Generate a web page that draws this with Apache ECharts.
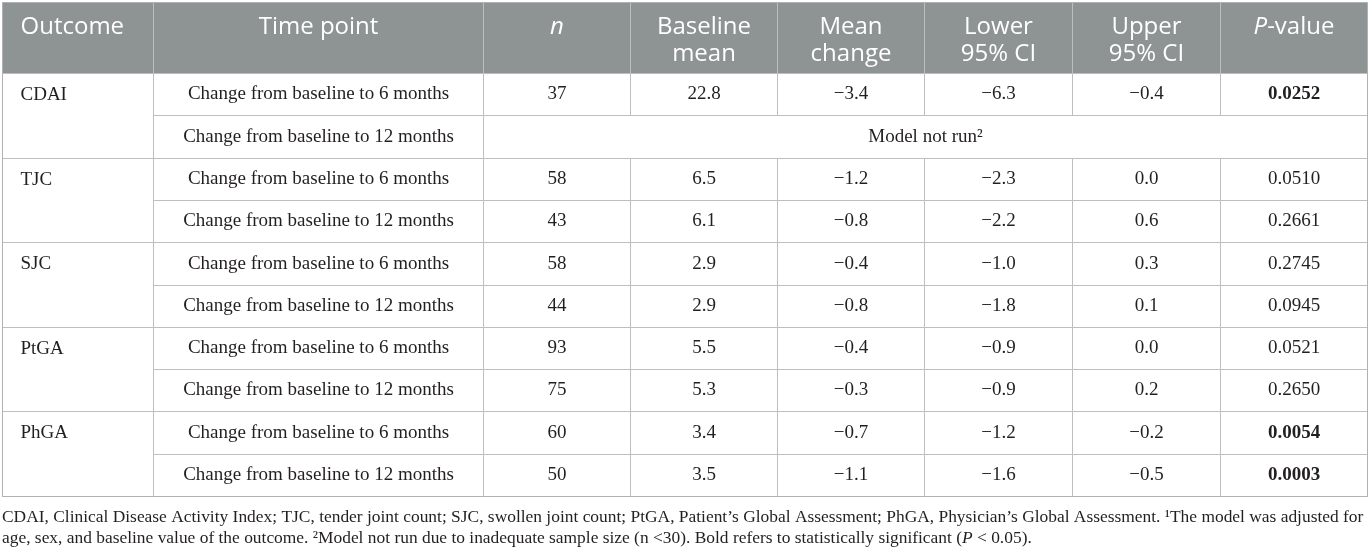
<!DOCTYPE html>
<html>
<head>
<meta charset="utf-8">
<title>Change from baseline</title>
<script src="https://cdn.jsdelivr.net/npm/echarts@6/dist/echarts.min.js"></script>
<style>
html, body { margin: 0; padding: 0; background: #fff; }
#main { width: 1369px; height: 554px; }
</style>
</head>
<body>
<div id="main"></div>
<script>
// table contents
var headerLabels = ['Outcome', 'Time point', '{i|n}', 'Baseline\nmean', 'Mean\nchange', 'Lower\n95% CI', 'Upper\n95% CI', '{i|P}-value'];
var outcomes = ['CDAI', 'TJC', 'SJC', 'PtGA', 'PhGA'];
var timePoints = ['Change from baseline to 6 months', 'Change from baseline to 12 months'];
var nValues = [37, null, 58, 43, 58, 44, 93, 75, 60, 50];
var baselineMean = [22.8, null, 6.5, 6.1, 2.9, 2.9, 5.5, 5.3, 3.4, 3.5];
var meanChange = [-3.4, null, -1.2, -0.8, -0.4, -0.8, -0.4, -0.3, -0.7, -1.1];
var lowerCI = [-6.3, null, -2.3, -2.2, -1.0, -1.8, -0.9, -0.9, -1.2, -1.6];
var upperCI = [-0.4, null, 0.0, 0.6, 0.3, 0.1, 0.0, 0.2, -0.2, -0.5];
var pValues = [0.0252, null, 0.0510, 0.2661, 0.2745, 0.0945, 0.0521, 0.2650, 0.0054, 0.0003];
var notRunText = 'Model not run\u00b2';
var footLines = [
	'CDAI, Clinical Disease Activity Index; TJC, tender joint count; SJC, swollen joint count; PtGA, Patient\u2019s Global Assessment; PhGA, Physician\u2019s Global Assessment. \u00b9The model was adjusted for',
	'age, sex, and baseline value of the outcome. \u00b2Model not run due to inadequate sample size (n <30). Bold refers to statistically significant ({i|P} < 0.05).'
];

// layout
var colWidths = [151, 330, 147, 147, 147, 148, 148, 147];
var headerRows = 1.68;          // header height in body-row units
var serif = '"Liberation Serif", "DejaVu Serif", serif';
var sans = '"Open Sans", "Noto Sans", sans-serif';
var headFill = '#8e9394';
var lineColor = '#bbbfc0';
var textColor = '#231f20';

var colEdges = [0];
for (var i = 0; i < colWidths.length; i++) {
	colEdges.push(colEdges[i] + colWidths[i]);
}
var totalW = colEdges[colEdges.length - 1];
var rowCount = nValues.length;

function fmt1(v) {
	return (v < 0 ? '\u2212' : '') + Math.abs(v).toFixed(1);
}

// build cells: value = [x0, y0, x1, y1] in axis units
var cells = [];
function addCell(c0, c1, r0, r1, opt) {
	opt.value = [colEdges[c0], r0, colEdges[c1], r1];
	cells.push(opt);
}
for (var c = 0; c < headerLabels.length; c++) {
	addCell(c, c + 1, 0, headerRows, {
		text: headerLabels[c], head: true, fill: headFill, stroke: lineColor,
		align: c === 0 ? 'left' : 'center'
	});
}
for (var g = 0; g < outcomes.length; g++) {
	addCell(0, 1, headerRows + 2 * g, headerRows + 2 * g + 2, {
		text: outcomes[g], firstRow: true, fill: '#fff', stroke: lineColor, align: 'left'
	});
}
for (var r = 0; r < rowCount; r++) {
	var y0 = headerRows + r;
	addCell(1, 2, y0, y0 + 1, { text: timePoints[r % 2], fill: '#fff', stroke: lineColor, align: 'center' });
	if (nValues[r] == null) {
		addCell(2, 8, y0, y0 + 1, { text: notRunText, fill: '#fff', stroke: lineColor, align: 'center' });
		continue;
	}
	var rowTexts = [String(nValues[r]), baselineMean[r].toFixed(1), fmt1(meanChange[r]), fmt1(lowerCI[r]), fmt1(upperCI[r]), pValues[r].toFixed(4)];
	for (var k = 0; k < rowTexts.length; k++) {
		addCell(k + 2, k + 3, y0, y0 + 1, {
			text: rowTexts[k], fill: '#fff', stroke: lineColor, align: 'center',
			bold: k === 5 && pValues[r] < 0.05
		});
	}
}
// outer frame on top
addCell(0, 8, 0, headerRows + rowCount, { text: '', fill: 'none', stroke: '#aeb2b3' });

function renderCell(params, api) {
	var cell = cells[params.dataIndex];
	var p0 = api.coord([api.value(0), api.value(1)]);
	var p1 = api.coord([api.value(2), api.value(3)]);
	var unit = api.size([0, 1])[1];
	var x0 = Math.round(p0[0]) + 0.5, y0 = Math.round(p0[1]) + 0.5;
	var x1 = Math.round(p1[0]) + 0.5, y1 = Math.round(p1[1]) + 0.5;
	var children = [{
		type: 'rect',
		shape: { x: x0, y: y0, width: x1 - x0, height: y1 - y0 },
		style: { fill: cell.fill, stroke: cell.stroke, lineWidth: 1 }
	}];
	if (cell.text) {
		var tx = cell.align === 'left' ? x0 + 18 : (x0 + x1) / 2;
		var style;
		if (cell.head) {
			style = {
				text: cell.text, x: tx, y: y0 + 11, align: cell.align, verticalAlign: 'top',
				fill: '#ffffff', fontSize: 24, lineHeight: 27, fontFamily: sans,
				rich: { i: { fill: '#ffffff', fontSize: 24, lineHeight: 27, fontFamily: sans, fontStyle: 'italic' } }
			};
		} else {
			style = {
				text: cell.text, x: tx, y: cell.firstRow ? y0 + unit / 2 : (y0 + y1) / 2,
				align: cell.align, verticalAlign: 'middle',
				fill: textColor, fontSize: 19, fontFamily: serif,
				fontWeight: cell.bold ? 'bold' : 'normal'
			};
		}
		children.push({ type: 'text', style: style });
	}
	return { type: 'group', children: children };
}

// fit the footnote to the table width
var measureCtx = document.createElement('canvas').getContext('2d');
measureCtx.font = '100px ' + serif;
var footSize = 100 * 1362 / measureCtx.measureText(footLines[0]).width;

var chart = echarts.init(document.getElementById('main'));
chart.setOption({
	animation: false,
	grid: { left: 2, top: 2, width: totalW, height: 494 },
	xAxis: { type: 'value', min: 0, max: totalW, show: false },
	yAxis: { type: 'value', min: 0, max: headerRows + rowCount, inverse: true, show: false },
	series: [{
		type: 'custom',
		coordinateSystem: 'cartesian2d',
		renderItem: renderCell,
		silent: true,
		data: cells.map(function (cell) { return cell.value; })
	}],
	graphic: footLines.map(function (line, idx) {
		return {
			type: 'text',
			x: 2,
			y: 517 + idx * 21,
			style: {
				text: line,
				fill: textColor,
				fontSize: footSize,
				fontFamily: serif,
				verticalAlign: 'middle',
				rich: { i: { fill: textColor, fontSize: footSize, fontFamily: serif, fontStyle: 'italic' } }
			}
		};
	})
});
</script>
</body>
</html>
